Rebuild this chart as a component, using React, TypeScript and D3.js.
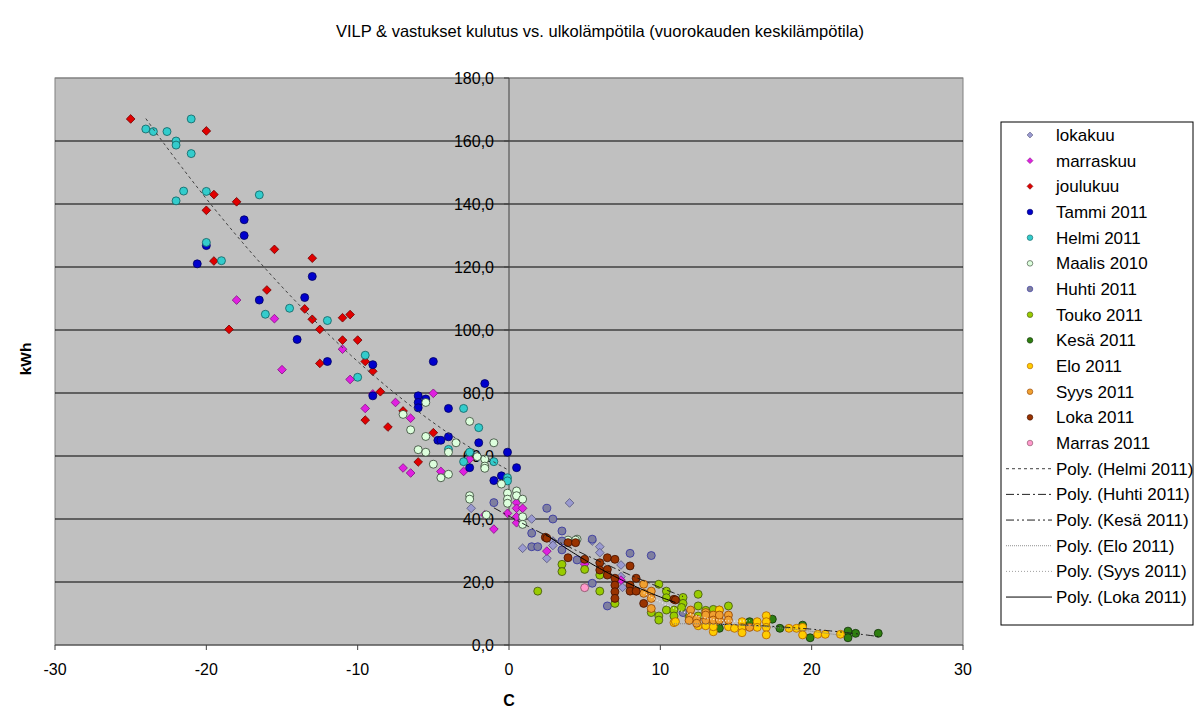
import React from 'react';
import * as d3 from 'd3';

type Pt = [number, number];

// values: [temperature C, kWh]
const lokakuu: Pt[] = [
  [-2.5, 43.4], [4, 45.1], [1.5, 40], [0.9, 30.7], [2.5, 27.5], [2.9, 33], [2.9, 31.6],
  [5.5, 33], [6, 31.2], [6, 29.3], [7.4, 25.4], [7.4, 21.7], [7.5, 18.3],
];
const marraskuu: Pt[] = [
  [-18, 109.5], [-15.5, 103.6], [-11, 93.9], [-15, 87.4], [-10.5, 84.3], [-9, 79.7], [-7.5, 77],
  [-9.5, 75.1], [-6.5, 72], [-7, 56.2], [-6.5, 54.6], [-5, 79.9], [-4.5, 55.1], [-3, 55.1],
  [-2.6, 59], [-1.6, 41.3], [-0.1, 41.8], [0.5, 38.8], [-1, 36.8], [0.5, 45.2], [0.5, 43.4],
  [0.9, 43.4], [0.5, 40.7], [2.5, 29.8], [5, 25.7], [7.4, 20.6],
];
const joulukuu: Pt[] = [
  [-25, 167], [-20, 163.2], [-19.5, 143], [-18, 140.7], [-20, 138], [-15.5, 125.6], [-13, 122.8],
  [-19.5, 121.9], [-16, 112.7], [-13.5, 106.7], [-13, 103.4], [-12.5, 100.2], [-11, 103.9],
  [-10.5, 104.9], [-18.5, 100.2], [-11, 96.8], [-10, 96.8], [-9.5, 90], [-9, 86.9], [-12.5, 89.4],
  [-8.5, 80.4], [-7, 74.3], [-9.5, 71.4], [-8, 69.2], [-5, 67.4], [-6, 58.1],
];
const tammi: Pt[] = [
  [-20.6, 121], [-20, 126.8], [-17.5, 135], [-17.5, 130], [-13, 117], [-13.5, 110.3], [-16.5, 109.5],
  [-14, 97], [-12, 90], [-9, 89], [-9, 79.1], [-5, 90], [-6, 79.1], [-6, 77], [-6, 75.3], [-5.5, 78.1],
  [-4.7, 65], [-1.6, 83], [-4, 75.1], [-4.5, 65], [-4, 66.1], [-2, 64.2], [-2.6, 56.3], [-0.1, 61.2],
  [0.5, 56.3], [-0.5, 53.7], [-1, 52.2],
];
const helmi: Pt[] = [
  [-24, 163.8], [-23.5, 163], [-22.6, 163], [-21, 167], [-22, 160], [-22, 158.7], [-21, 156],
  [-21.5, 144.1], [-22, 141], [-20, 144], [-16.5, 142.9], [-20, 127.8], [-19, 122], [-16.1, 105],
  [-14.5, 106.9], [-12, 103], [-9.5, 92], [-10, 85], [-3, 75.1], [-2, 69], [-4, 62.1], [-2.6, 61.2],
  [-3, 58.2], [-1, 58.2], [-0.1, 53.1], [-0.1, 52.1],
];
const maalis: Pt[] = [
  [-7, 73.2], [-6.5, 68.3], [-5.5, 66.2], [-6, 62], [-5.5, 61.2], [-5, 57.4], [-5.5, 77], [-2.6, 71],
  [-3.5, 64.2], [-1, 64.2], [-4, 61.2], [-2.1, 59.8], [-1.6, 59], [-1.6, 56.8], [-1.6, 56.1],
  [-4.5, 53.1], [-4, 54.2], [-0.5, 51.1], [0.5, 48.9], [-0.1, 48.2], [-0.1, 46.3], [-0.1, 45],
  [0.5, 47.4], [0.9, 46.3], [-2.6, 47.4], [-2.6, 46.3], [-1.5, 41.3], [0.9, 40.7], [0.9, 38.3],
  [4.5, 33.6], [3.9, 33.3], [4.4, 33.3],
];
const huhti: Pt[] = [
  [-1, 45.2], [2.5, 43.4], [2.9, 40], [1.5, 35.5], [3.5, 36.2], [5.5, 33.6], [1.5, 31.2], [1.9, 31.2],
  [3.5, 33], [3.5, 30.2], [4.5, 27], [8, 29.1], [9.4, 28.4], [5.5, 19.6], [6.5, 12.4], [11.5, 10.3],
];
const touko: Pt[] = [
  [3.5, 25.6], [3.5, 23.3], [5, 24], [1.9, 17.1], [6, 22.2], [6, 17.1], [7, 13.2], [9.9, 19.3],
  [10.4, 17.1], [10.4, 15], [9.4, 10.3], [9.9, 9.2], [9.9, 7.9], [10.4, 11.1], [11.5, 15.1],
  [11.5, 13.2], [10.9, 11.1], [10.9, 9.2], [12.5, 16.1], [12.5, 12.4], [12.5, 9.2], [13.5, 11.3],
  [13.9, 11.1], [14.5, 12.4], [11.4, 11.9], [11.9, 8.9], [13, 11],
];
const kesa: Pt[] = [
  [13.9, 5.3], [15.9, 7.4], [17.4, 8.2], [17.9, 5.3], [19.4, 6.3], [19.9, 2.3], [22.4, 4.4],
  [22.4, 2.3], [22.9, 3.7], [24.4, 3.7],
];
const elo: Pt[] = [
  [10.9, 7.1], [11, 7.4], [12.5, 6.1], [13, 6.1], [13.5, 6.9], [13.5, 4.2], [13.5, 5.8], [13.9, 11.1],
  [14.5, 5.8], [14.9, 5.3], [15.4, 7.4], [15.4, 5.6], [15.4, 3.9], [16.4, 7.4], [16.4, 5.6], [17, 9.3],
  [17, 7.4], [17, 5.6], [17, 3.2], [18.5, 5.3], [19, 5.3], [19.4, 5.6], [19.4, 3.2], [20.4, 3.4],
  [20.9, 3.4], [21.9, 3.4],
];
const syys: Pt[] = [
  [8.9, 19.3], [9.4, 17.1], [9.4, 14.8], [8.9, 16.4], [9.4, 11.6], [12, 11.1], [12, 9], [13, 10.3],
  [13, 7.9], [13, 9.5], [13.5, 9.5], [13.5, 7.9], [13.9, 7.9], [14.5, 9.5], [14.5, 7.9], [12.4, 8.2],
  [12.4, 6.9], [11.9, 7.8], [15.9, 5.6], [13.9, 9.5],
];
const loka: Pt[] = [
  [2.4, 34.2], [2.5, 33.9], [3.9, 32.5], [4.4, 32.5], [3.9, 27.7], [5, 27.2], [6, 26.1], [6, 23.8],
  [6.5, 27.7], [7, 27.2], [6.5, 24], [6.5, 22.2], [8, 25.1], [7, 21.2], [7, 19], [7, 16.9], [7, 14.8],
  [8, 19], [8, 17.1], [8.4, 17.1], [8.4, 21.2], [8.9, 13.2], [10.9, 14.5], [11, 14.3],
];
const marras: Pt[] = [[5, 18.2]];

const xTicks = [-30, -20, -10, 0, 10, 20, 30];
const yTicks = [0, 20, 40, 60, 80, 100, 120, 140, 160, 180];

const series = [
  { name: 'lokakuu', data: lokakuu, shape: 'diamond', fill: '#9a9ad0', stroke: '#55557a' },
  { name: 'marraskuu', data: marraskuu, shape: 'diamond', fill: '#e020e0', stroke: '#801080' },
  { name: 'joulukuu', data: joulukuu, shape: 'diamond', fill: '#e00000', stroke: '#700000' },
  { name: 'Tammi 2011', data: tammi, shape: 'circle', fill: '#0000cc', stroke: '#000060' },
  { name: 'Helmi 2011', data: helmi, shape: 'circle', fill: '#33cccc', stroke: '#106060' },
  { name: 'Maalis 2010', data: maalis, shape: 'circle', fill: '#ddffdd', stroke: '#304030' },
  { name: 'Huhti 2011', data: huhti, shape: 'circle', fill: '#7f7f9f', stroke: '#3030a0' },
  { name: 'Touko 2011', data: touko, shape: 'circle', fill: '#99cc00', stroke: '#405010' },
  { name: 'Kesä 2011', data: kesa, shape: 'circle', fill: '#2f7f10', stroke: '#103008' },
  { name: 'Elo 2011', data: elo, shape: 'circle', fill: '#ffcc00', stroke: '#b06000' },
  { name: 'Syys 2011', data: syys, shape: 'circle', fill: '#f0a030', stroke: '#904000' },
  { name: 'Loka 2011', data: loka, shape: 'circle', fill: '#993300', stroke: '#401000' },
  { name: 'Marras 2011', data: marras, shape: 'circle', fill: '#ff99cc', stroke: '#805060' },
];

const trends = [
  { name: 'Poly. (Helmi 2011)', data: helmi, color: '#404040', legendColor: '#404040', dash: '3,3', width: 1 },
  { name: 'Poly. (Huhti 2011)', data: huhti, color: '#202020', legendColor: '#202020', dash: '8,3,2,3', width: 1 },
  { name: 'Poly. (Kesä 2011)', data: kesa, color: '#202020', legendColor: '#202020', dash: '8,3,2,3,2,3', width: 1 },
  { name: 'Poly. (Elo 2011)', data: elo, color: '#808080', legendColor: '#909090', dash: '1,1', width: 1 },
  { name: 'Poly. (Syys 2011)', data: syys, color: '#f4f4f4', legendColor: '#a0a0a0', dash: '1,2', width: 1.2 },
  { name: 'Poly. (Loka 2011)', data: loka, color: '#000000', legendColor: '#000000', dash: null, width: 1 },
];

// least squares fit of a 2nd order polynomial, like the spreadsheet trendline
function polyfit2(pts: Pt[]): [number, number, number] {
  const s = [0, 0, 0, 0, 0];
  const t = [0, 0, 0];
  pts.forEach(([x, y]) => {
    for (let k = 0; k < 5; k++) s[k] += Math.pow(x, k);
    for (let k = 0; k < 3; k++) t[k] += y * Math.pow(x, k);
  });
  const m = [
    [s[0], s[1], s[2], t[0]],
    [s[1], s[2], s[3], t[1]],
    [s[2], s[3], s[4], t[2]],
  ];
  for (let i = 0; i < 3; i++) {
    for (let j = i + 1; j < 3; j++) {
      const f = m[j][i] / m[i][i];
      for (let k = i; k < 4; k++) m[j][k] -= f * m[i][k];
    }
  }
  const c = [0, 0, 0];
  for (let i = 2; i >= 0; i--) {
    let v = m[i][3];
    for (let k = i + 1; k < 3; k++) v -= m[i][k] * c[k];
    c[i] = v / m[i][i];
  }
  return [c[0], c[1], c[2]];
}

const W = 1200;
const H = 717;
const plot = { left: 55, right: 963, top: 78, bottom: 645 };
const font = 'Arial, "Liberation Sans", sans-serif';

const App: React.FC = () => {
  const x = d3.scaleLinear().domain([-30, 30]).range([plot.left, plot.right]);
  const y = d3.scaleLinear().domain([0, 180]).range([plot.bottom, plot.top]);
  const fmt = (v: number) => v.toFixed(1).replace('.', ',');

  const diamond = d3.symbol().type(d3.symbolDiamond2).size(48);
  const legendDiamond = d3.symbol().type(d3.symbolDiamond2).size(22);

  const line = d3.line<Pt>().x(d => x(d[0])).y(d => y(d[1]));

  const trendPaths = trends.map(t => {
    const [a, b, c] = polyfit2(t.data);
    const [x0, x1] = d3.extent(t.data, d => d[0]) as [number, number];
    const pts: Pt[] = d3.range(0, 61).map(i => {
      const xv = x0 + ((x1 - x0) * i) / 60;
      return [xv, a + b * xv + c * xv * xv];
    });
    return { ...t, d: line(pts) || '' };
  });

  const legendX = 1001;
  const legendY = 122;
  const rowH = 25.67;
  const legendRows = [
    ...series.map(s => ({ kind: 'marker' as const, s })),
    ...trends.map(t => ({ kind: 'line' as const, t })),
  ];

  return (
    <svg width={W} height={H} style={{ position: 'absolute', left: 0, top: 0, background: '#fff' }}>
      <text x={600} y={37} textAnchor="middle" fontFamily={font} fontSize={16.5}>
        VILP &amp; vastukset kulutus vs. ulkolämpötila (vuorokauden keskilämpötila)
      </text>

      <rect x={plot.left} y={plot.top} width={plot.right - plot.left} height={plot.bottom - plot.top}
        fill="#c0c0c0" stroke="#808080" strokeWidth={1} />

      {yTicks.filter(v => v > 0).map(v => (
        <line key={v} x1={plot.left} x2={plot.right} y1={y(v)} y2={y(v)}
          stroke={v === 180 ? '#808080' : '#000'} strokeWidth={1} />
      ))}

      {/* y axis at x = 0 */}
      <line x1={x(0)} x2={x(0)} y1={plot.top} y2={plot.bottom} stroke="#404040" strokeWidth={1} />
      {yTicks.map(v => (
        <g key={v}>
          <line x1={x(0) - 5} x2={x(0)} y1={y(v)} y2={y(v)} stroke="#404040" />
          <text x={x(0) - 15} y={y(v) + 6} textAnchor="end" fontFamily={font} fontSize={16} fill="#000">
            {fmt(v)}
          </text>
        </g>
      ))}

      {/* x axis at y = 0 */}
      <line x1={plot.left} x2={plot.right} y1={y(0)} y2={y(0)} stroke="#404040" strokeWidth={1} />
      {xTicks.map(v => (
        <g key={v}>
          <line x1={x(v)} x2={x(v)} y1={y(0)} y2={y(0) + 5} stroke="#404040" />
          <text x={x(v)} y={y(0) + 30} textAnchor="middle" fontFamily={font} fontSize={16}>
            {v}
          </text>
        </g>
      ))}

      {series.map(s => (
        <g key={s.name}>
          {s.data.map((d, i) =>
            s.shape === 'diamond' ? (
              <path key={i} d={diamond() || ''} transform={`translate(${x(d[0])},${y(d[1])})`}
                fill={s.fill} stroke={s.stroke} strokeWidth={0.8} />
            ) : (
              <circle key={i} cx={x(d[0])} cy={y(d[1])} r={4}
                fill={s.fill} stroke={s.stroke} strokeWidth={0.8} />
            )
          )}
        </g>
      ))}

      {trendPaths.map(t => (
        <path key={t.name} d={t.d} fill="none" stroke={t.color} strokeWidth={t.width}
          strokeDasharray={t.dash || undefined} />
      ))}

      <text x={0} y={0} transform={`translate(31,359) rotate(-90)`}
        textAnchor="middle" fontFamily={font} fontSize={15.5} fontWeight="bold">kWh</text>
      <text x={x(0)} y={706} textAnchor="middle" fontFamily={font} fontSize={16} fontWeight="bold">C</text>

      <rect x={legendX} y={legendY} width={192} height={503} fill="#fff" stroke="#000" strokeWidth={1} />
      {legendRows.map((r, i) => {
        const cy = legendY + 13 + i * rowH;
        if (r.kind === 'marker') {
          const s = r.s;
          return (
            <g key={s.name}>
              {s.shape === 'diamond' ? (
                <path d={legendDiamond() || ''} transform={`translate(1030,${cy})`}
                  fill={s.fill} stroke={s.stroke} strokeWidth={0.6} />
              ) : (
                <circle cx={1030} cy={cy} r={2.8} fill={s.fill} stroke={s.stroke} strokeWidth={0.6} />
              )}
              <text x={1056} y={cy + 6} fontFamily={font} fontSize={17}>{s.name}</text>
            </g>
          );
        }
        const t = r.t;
        return (
          <g key={t.name}>
            <line x1={1006} x2={1052} y1={cy} y2={cy} stroke={t.legendColor} strokeWidth={1}
              strokeDasharray={t.dash || undefined} />
            <text x={1056} y={cy + 6} fontFamily={font} fontSize={17}>{t.name}</text>
          </g>
        );
      })}
    </svg>
  );
};

export default App;
